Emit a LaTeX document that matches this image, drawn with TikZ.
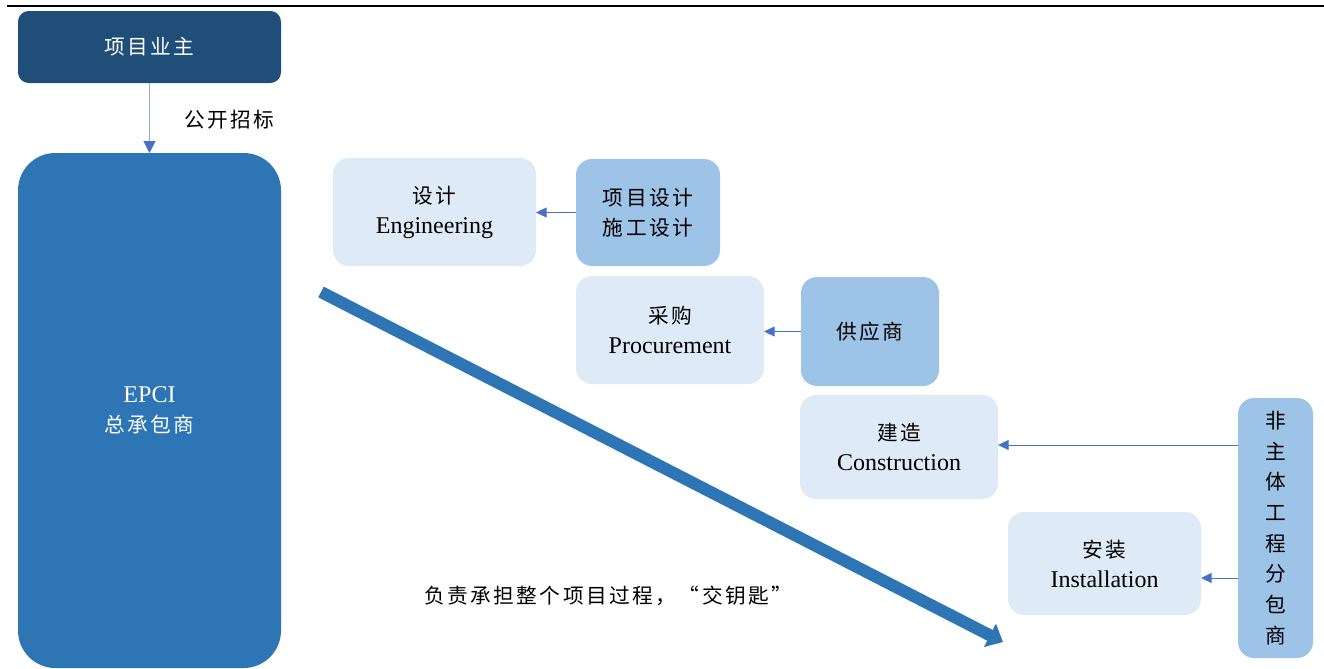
\documentclass[tikz,border=0pt]{standalone}
\usepackage{fontspec}
\setmainfont{Liberation Serif}
\newfontfamily\cjk[LetterSpace=12]{Noto Sans CJK SC}
\usetikzlibrary{arrows.meta,calc}
\definecolor{navy}{HTML}{1F4E79}
\definecolor{epciblue}{HTML}{2E75B6}
\definecolor{lightbox}{HTML}{DEEBF7}
\definecolor{midbox}{HTML}{9DC3E6}
\definecolor{arrowblue}{HTML}{4472C4}
\definecolor{paleline}{HTML}{8FAADC}
\newcommand\zh[1]{{\cjk\fontsize{15.5}{22.5}\selectfont #1}}
\begin{document}
\begin{tikzpicture}[x=0.75pt,y=-0.75pt,
  box/.style={draw=none,inner sep=0pt,outer sep=0pt,align=center,
    font=\fontsize{18}{22.5}\selectfont},
  lightnode/.style={box,fill=lightbox,rounded corners=12pt},
  midnode/.style={box,fill=midbox,rounded corners=12pt},
  thin arrow/.style={arrowblue,line width=0.75pt,-{Triangle[length=8pt,width=7.5pt]}},
]
\useasboundingbox (0,0) rectangle (1324,668);
% top rule
\coordinate (rl) at (7,5.5);
\coordinate (rr) at (1324,5.5);
\draw[line width=1.5pt,black] (rl) -- (rr);

% owner
\node[box,fill=navy,text=white,rounded corners=8pt,
  minimum width={263*0.75pt},minimum height={72*0.75pt}]
  (owner) at (149.5,47) {\zh{项目业主}};
% EPCI
\node[box,fill=epciblue,text=white,rounded corners=28pt,
  minimum width={263*0.75pt},minimum height={515*0.75pt}]
  (epci) at (149.5,410.5) {EPCI\\\zh{总承包商}};
\draw[paleline,line width=0.75pt,-{Triangle[length=9pt,width=9pt,color=arrowblue]}]
  (owner) -- (epci);
\node[anchor=west,inner sep=0pt] (bid) at (184,120) {\zh{公开招标}};

% Engineering
\node[lightnode,minimum width={203*0.75pt},minimum height={108*0.75pt}]
  (eng) at (434.5,212) {\zh{设计}\\Engineering};
\node[midnode,minimum width={144*0.75pt},minimum height={107*0.75pt}]
  (des) at (648,212.5) {\zh{项目设计}\\\zh{施工设计}};
\draw[thin arrow] (des.west) -- (eng.east |- des.west);

% Procurement
\node[lightnode,minimum width={188*0.75pt},minimum height={108*0.75pt}]
  (proc) at (670,330) {\zh{采购}\\Procurement};
\node[midnode,minimum width={138*0.75pt},minimum height={109*0.75pt}]
  (sup) at (870,331.5) {\zh{供应商}};
\draw[thin arrow] (sup.west) -- (proc.east |- sup.west);

% Construction
\node[lightnode,minimum width={198*0.75pt},minimum height={104*0.75pt}]
  (con) at (899,447) {\zh{建造}\\Construction};
% Installation
\node[lightnode,minimum width={193*0.75pt},minimum height={103*0.75pt}]
  (inst) at (1104.5,563.5) {\zh{安装}\\Installation};
% subcontractor
\node[midnode,minimum width={75*0.75pt},minimum height={260*0.75pt},
  font=\fontsize{18}{23}\selectfont]
  (sub) at (1275.5,528) {\zh{非}\\\zh{主}\\\zh{体}\\\zh{工}\\\zh{程}\\\zh{分}\\\zh{包}\\\zh{商}};
\coordinate (ca) at (0,445);
\coordinate (ia) at (0,578);
\draw[thin arrow] (sub.west |- ca) -- (con.east |- ca);
\draw[thin arrow] (sub.west |- ia) -- (inst.east |- ia);

% big diagonal arrow
\coordinate (ts) at (321,292);
\coordinate (te) at (1003,642);
\draw[epciblue,line width=9pt,-{Triangle[length=11pt,width=19pt]}] (ts) -- (te);
\node[anchor=west,inner sep=0pt] (resp) at (424,596) {\zh{负责承担整个项目过程，“交钥匙”}};
\end{tikzpicture}
\end{document}
